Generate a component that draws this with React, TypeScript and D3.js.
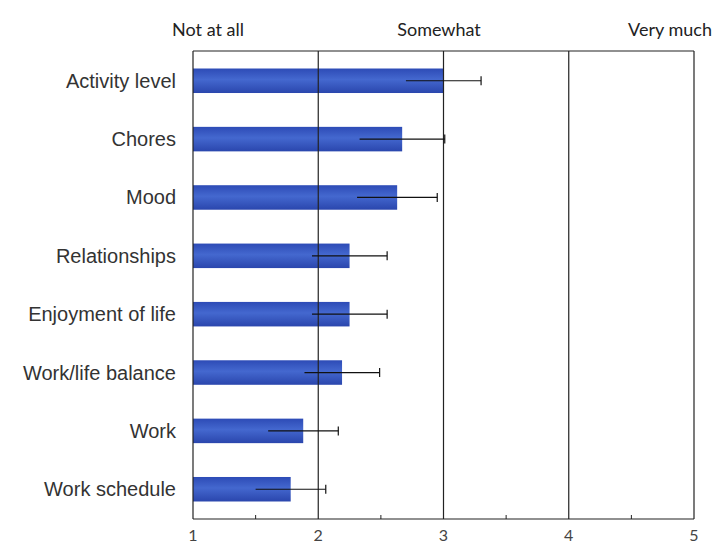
import * as d3 from 'd3';

const categories = [
  'Activity level',
  'Chores',
  'Mood',
  'Relationships',
  'Enjoyment of life',
  'Work/life balance',
  'Work',
  'Work schedule',
];
const means = [3.0, 2.67, 2.63, 2.25, 2.25, 2.19, 1.88, 1.78];
const errors = [0.3, 0.34, 0.32, 0.3, 0.3, 0.3, 0.28, 0.28];
const majorTicks = [1, 2, 3, 4, 5];
const minorTicks = [1.5, 2.5, 3.5, 4.5];
const anchors = [
  { label: 'Not at all', value: 1.12 },
  { label: 'Somewhat', value: 1.12 + (439 - 208) / 125.25 },
  { label: 'Very much', value: 1.12 + (670 - 208) / 125.25 },
];

export default function App() {
  const width = 724;
  const height = 547;
  const top = 51;
  const bottom = 519;

  const x = d3.scaleLinear().domain([1, 5]).range([193, 694]);
  const y = d3
    .scaleBand<string>()
    .domain(categories)
    .range([top, bottom])
    .paddingInner(0.58)
    .paddingOuter(0.3);

  return (
    <svg
      width={width}
      height={height}
      style={{ position: 'absolute', left: 0, top: 0, background: '#fff' }}
    >
      <defs>
        <linearGradient id="barGrad" x1="0" y1="0" x2="0" y2="1">
          <stop offset="0%" stopColor="#2d4bb6" />
          <stop offset="45%" stopColor="#4468cf" />
          <stop offset="100%" stopColor="#2a46ad" />
        </linearGradient>
      </defs>

      {/* anchor labels on top */}
      {anchors.map((a) => (
        <text
          key={a.label}
          x={x(a.value)}
          y={36}
          textAnchor="middle"
          fontFamily="Lato, sans-serif"
          fontSize={18}
          fill="#222"
        >
          {a.label}
        </text>
      ))}

      {/* bars */}
      {categories.map((c, i) => (
        <rect
          key={c}
          x={x(1)}
          y={y(c)!}
          width={x(means[i]) - x(1)}
          height={y.bandwidth()}
          fill="url(#barGrad)"
        />
      ))}

      {/* grid / frame lines */}
      <line x1={x(1)} x2={x(5)} y1={top} y2={top} stroke="#222" strokeWidth={1.2} />
      <line x1={x(1)} x2={x(5)} y1={bottom} y2={bottom} stroke="#222" strokeWidth={1.2} />
      {majorTicks.map((t) => (
        <line
          key={t}
          x1={x(t)}
          x2={x(t)}
          y1={top}
          y2={bottom}
          stroke="#222"
          strokeWidth={1.2}
        />
      ))}
      {minorTicks.map((t) => (
        <line
          key={t}
          x1={x(t)}
          x2={x(t)}
          y1={bottom}
          y2={bottom - 4}
          stroke="#222"
          strokeWidth={1}
        />
      ))}

      {/* error bars */}
      {categories.map((c, i) => {
        const cy = y(c)! + y.bandwidth() / 2;
        const x0 = x(means[i] - errors[i]);
        const x1 = x(means[i] + errors[i]);
        return (
          <g key={c}>
            <line x1={x0} x2={x1} y1={cy} y2={cy} stroke="#111" strokeWidth={1.2} />
            <line x1={x1} x2={x1} y1={cy - 4.5} y2={cy + 4.5} stroke="#111" strokeWidth={1.2} />
          </g>
        );
      })}

      {/* category labels */}
      {categories.map((c) => (
        <text
          key={c}
          x={176}
          y={y(c)! + y.bandwidth() / 2}
          dy="0.35em"
          textAnchor="end"
          fontFamily="'Liberation Sans', Arial, sans-serif"
          fontSize={20}
          fill="#333"
        >
          {c}
        </text>
      ))}

      {/* tick labels */}
      {majorTicks.map((t) => (
        <text
          key={t}
          x={x(t)}
          y={535}
          dy="0.35em"
          textAnchor="middle"
          fontFamily="Lato, sans-serif"
          fontSize={16}
          fill="#444"
        >
          {t}
        </text>
      ))}
    </svg>
  );
}
